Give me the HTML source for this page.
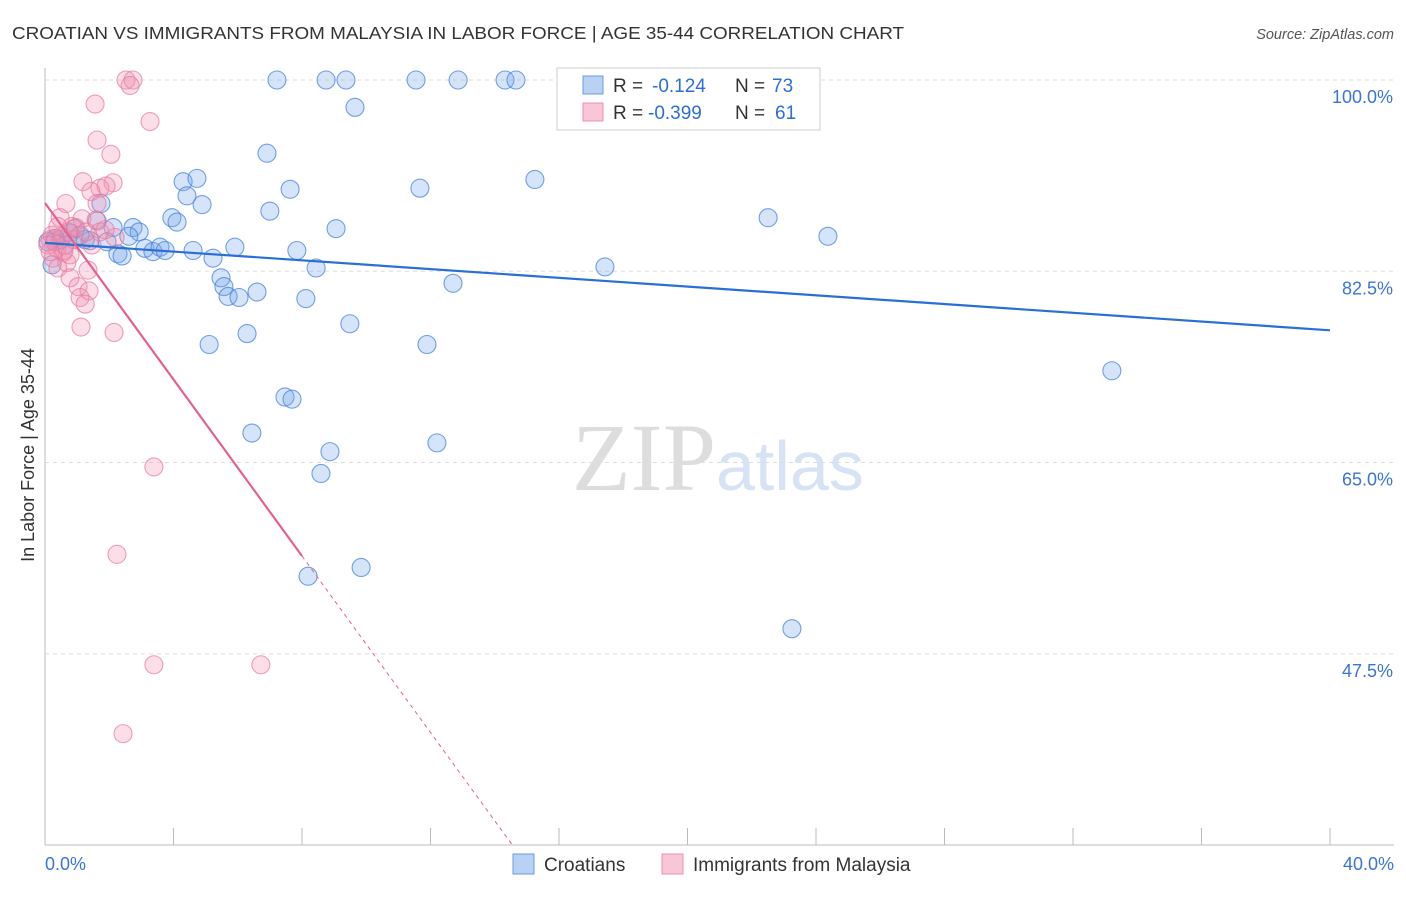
<!DOCTYPE html>
<html><head><meta charset="utf-8"><style>
body{margin:0;background:#fff;font-family:"Liberation Sans",sans-serif;}
</style></head><body>
<svg id="c" width="1406" height="892" xmlns="http://www.w3.org/2000/svg">
<text x="12" y="39" font-size="17.5" fill="#333" textLength="892" lengthAdjust="spacingAndGlyphs">CROATIAN VS IMMIGRANTS FROM MALAYSIA IN LABOR FORCE | AGE 35-44 CORRELATION CHART</text>
<text x="1394" y="39" font-size="14.5" fill="#555" font-style="italic" text-anchor="end">Source: ZipAtlas.com</text>
<text x="716" y="490" font-size="96" fill="#ddd" text-anchor="end" font-family="Liberation Serif">ZIP</text>
<text x="716" y="490" font-size="70" fill="#d6e3f5">atlas</text>
<text transform="translate(34,455) rotate(-90)" font-size="18" fill="#333" text-anchor="middle">In Labor Force | Age 35-44</text>
<g id="grid"></g><g id="pts"></g><g id="trend"></g>
<g>
<rect x="557" y="68" width="263" height="62" fill="#fff" stroke="#ccc"/>
<rect x="583" y="76" width="20" height="18" fill="#b9d1f3" stroke="#6a9ae6"/>
<text y="92" font-size="19" fill="#333"><tspan x="613">R =</tspan><tspan x="652" fill="#2a6fd6">-0.124</tspan><tspan x="735">N =</tspan><tspan x="772" fill="#2a6fd6">73</tspan></text>
<rect x="583" y="103" width="20" height="18" fill="#f8c6d6" stroke="#ee90ae"/>
<text y="119" font-size="19" fill="#333"><tspan x="613">R =</tspan><tspan x="648" fill="#2a6fd6">-0.399</tspan><tspan x="735">N =</tspan><tspan x="775" fill="#2a6fd6">61</tspan></text>
</g>
<g>
<rect x="513" y="854" width="21" height="20" fill="#b9d1f3" stroke="#6a9ae6"/>
<text x="544" y="871" font-size="19" fill="#333">Croatians</text>
<rect x="662" y="854" width="21" height="20" fill="#f8c6d6" stroke="#ee90ae"/>
<text x="693" y="871" font-size="19" fill="#333">Immigrants from Malaysia</text>
</g>
</svg>
<script>
const blueX=[7.22,8.75,9.37,11.55,12.86,14.32,14.66,16.75,9.65,6.91,4.30,4.73,4.42,4.89,7.63,11.67,15.25,7.00,3.95,4.11,9.06,1.74,1.62,2.12,2.74,2.93,2.61,1.40,1.93,3.11,3.36,3.58,3.74,4.61,5.91,7.84,5.23,2.27,2.40,5.48,5.57,5.70,6.04,6.60,8.44,8.12,9.49,12.70,17.43,22.51,24.37,5.11,6.29,11.89,33.21,7.47,7.69,6.44,12.20,8.87,8.59,8.19,9.84,23.25,0.22,0.47,0.78,1.09,0.62,0.31,0.93,1.25,0.09];
const blueY=[100,100,100,100,100,100,100,100,97.5,93.3,90.7,91.0,89.4,88.6,90.0,90.1,90.9,88.0,87.4,87.0,86.4,88.7,87.1,86.5,86.5,86.1,85.7,85.3,85.2,84.6,84.3,84.7,84.4,84.4,84.7,84.4,83.7,84.1,83.9,81.9,81.1,80.2,80.1,80.6,82.8,80.0,77.7,81.4,82.9,87.4,85.7,75.8,76.8,75.8,73.4,71.0,70.8,67.7,66.8,66.0,64.0,54.6,55.4,49.8,83.1,85.4,86.0,85.8,84.9,85.5,86.4,85.4,85.2];
const pinkX=[2.52,2.74,2.65,1.56,3.27,1.62,2.05,1.18,2.12,1.71,1.90,1.43,0.65,1.62,0.47,1.15,1.59,0.84,1.71,2.18,0.16,0.37,0.56,0.25,0.68,0.40,0.78,1.34,1.03,1.37,1.09,1.25,1.12,2.15,3.39,2.24,3.39,6.72,2.43,0.22,0.09,0.31,0.53,0.72,0.90,0.96,1.46,0.40,0.59,0.16,0.78,1.28,1.87];
const pinkY=[100,100,99.5,97.8,96.2,94.5,93.2,90.7,90.6,90.1,90.3,89.8,88.7,88.7,87.4,87.3,87.2,86.6,86.1,85.6,85.4,84.6,84.2,83.7,83.3,82.8,81.9,82.6,81.1,80.7,80.1,79.5,77.4,76.9,64.6,56.6,46.5,46.5,40.2,85.8,84.9,85.2,85.7,86.1,85.4,86.5,84.9,86.6,84.4,84.3,84.0,86.1,86.3];
const yTicks=[100,82.5,65,47.5];
const xTicks=[0,4,8,12,16,20,24,28,32,36,40];
const blueTrend=[85.1,77.1];
const pinkTrend=[88.75,56.45];
const NS='http://www.w3.org/2000/svg';
const X=v=>45+v*32.125, Y=v=>80+(100-v)*10.93;
function el(t,a,p){const e=document.createElementNS(NS,t);for(const k in a)e.setAttribute(k,a[k]);document.getElementById(p).appendChild(e);return e;}
yTicks.forEach(t=>{
 const l=el('line',{x1:45,x2:1394,y1:Y(t),y2:Y(t),stroke:'#ddd','stroke-dasharray':'4,4'},'grid');
 
 
 const tx=el('text',{x:1393,y:Y(t)+23,'font-size':18,fill:'#3a74d6','text-anchor':'end'},'grid');
 tx.textContent=t.toFixed(1)+'%';
 
 
});
const ax=el('line',{x1:45,x2:45,y1:68,y2:845,stroke:'#bbb'},'grid');


const bx=el('line',{x1:45,x2:1394,y1:845,y2:845,stroke:'#bbb'},'grid');


xTicks.forEach(t=>{
 const l=el('line',{x1:X(t),x2:X(t),y1:828,y2:845,stroke:'#bbb'},'grid');
 
 
});
[[0,'start',45],[40,'end',1394]].forEach(([v,a,x])=>{
 const tx=el('text',{x:x,y:870,'font-size':18,fill:'#3a74d6','text-anchor':a},'grid');
 tx.textContent=v.toFixed(1)+'%';
 
 
});
blueX.forEach((v,i)=>{
 const c=el('circle',{cx:X(v),cy:Y(blueY[i]),r:9,fill:'rgba(120,165,235,0.3)',stroke:'rgba(70,130,220,0.75)','stroke-width':1.1},'pts');
 
 
});
pinkX.forEach((v,i)=>{
 const c=el('circle',{cx:X(v),cy:Y(pinkY[i]),r:9,fill:'rgba(242,145,175,0.3)',stroke:'rgba(230,120,160,0.7)','stroke-width':1.1},'pts');
 
 
});
const bl=el('line',{x1:X(0),y1:Y(blueTrend[0]),x2:X(40),y2:Y(blueTrend[1]),stroke:'#2a6fd6','stroke-width':2.2},'trend');


const ps=(pinkTrend[1]-pinkTrend[0])/8;
const pl=el('line',{x1:X(0),y1:Y(pinkTrend[0]),x2:X(8),y2:Y(pinkTrend[1]),stroke:'#e5608e','stroke-width':2.2},'trend');


const xe=(30-pinkTrend[0])/ps;
const pd=el('line',{x1:X(8),y1:Y(pinkTrend[1]),x2:X(xe),y2:Y(30),stroke:'#e5608e','stroke-width':1,'stroke-dasharray':'4,4'},'trend');


</script>
</body></html>
